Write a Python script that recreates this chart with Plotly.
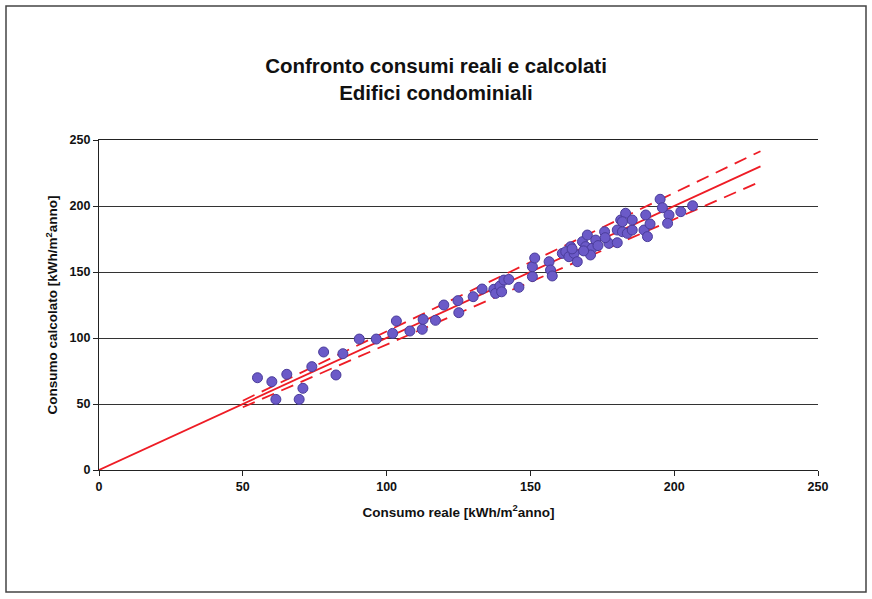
import plotly.graph_objects as go

# Measured points: consumo reale (x) vs consumo calcolato (y)
consumo_reale = [55.1, 60.1, 61.5, 65.3, 70.9, 69.6, 74.0, 78.1, 82.4, 84.8,
                 90.5, 96.4, 102.1, 103.4, 108.1, 112.4, 112.7, 117.0, 119.9, 125.1,
                 124.8, 130.1, 133.2, 137.3, 137.9, 139.4, 140.8, 142.5, 140.0, 146.0,
                 150.7, 150.7, 151.5, 156.5, 157.0, 157.6, 161.1, 164.0, 162.3, 163.4,
                 165.2, 166.3, 168.1, 169.8, 169.2, 171.5, 170.9, 172.7, 175.8, 177.3,
                 180.2, 180.2, 181.4, 183.1, 182.0, 183.7, 185.4, 190.1, 189.5, 190.7,
                 195.1, 195.9, 198.2, 197.7, 202.3, 206.4, 191.6, 185.4, 182.0, 164.5,
                 168.5, 176.0, 173.5]
consumo_calcolato = [69.9, 66.9, 53.5, 72.5, 61.9, 53.5, 78.3, 89.4, 72.0, 88.1,
                     99.2, 99.2, 103.5, 112.9, 105.3, 106.6, 114.1, 113.4, 125.0, 119.2,
                     128.3, 131.3, 137.1, 136.9, 133.8, 139.4, 143.9, 144.4, 135.0, 138.4,
                     146.5, 154.0, 160.6, 157.8, 151.5, 147.0, 164.1, 169.2, 165.4, 161.6,
                     164.1, 157.8, 173.0, 178.0, 169.2, 168.0, 162.9, 174.2, 180.5, 171.7,
                     172.2, 181.8, 189.4, 194.5, 180.5, 179.3, 181.8, 193.2, 181.8, 176.8,
                     205.1, 198.7, 193.2, 186.9, 195.7, 200.2, 186.4, 189.4, 188.1, 167.5,
                     166.0, 176.0, 170.0]

# Regression line and dashed band ends
fit_x = [0, 230]
fit_y = [0, 230]
band_x = [50, 230]
band_upper = [52.5, 241.5]
band_lower = [47.5, 218.5]

# Axis ticks
x_ticks = [0, 50, 100, 150, 200, 250]
y_ticks = [0, 50, 100, 150, 200, 250]

RED = "#EE1C25"
FONT = "Liberation Sans, Arial, sans-serif"

fig = go.Figure()
fig.add_trace(go.Scatter(x=band_x, y=band_upper, mode="lines",
                         line=dict(color=RED, width=1.8, dash="13px,8px"),
                         hoverinfo="skip"))
fig.add_trace(go.Scatter(x=band_x, y=band_lower, mode="lines",
                         line=dict(color=RED, width=1.8, dash="13px,8px"),
                         hoverinfo="skip"))
fig.add_trace(go.Scatter(x=fit_x, y=fit_y, mode="lines",
                         line=dict(color=RED, width=1.8)))
fig.add_trace(go.Scatter(x=consumo_reale, y=consumo_calcolato, mode="markers",
                         marker=dict(size=10, color="#6B5AC8",
                                     line=dict(color="#4A3C9A", width=1))))

fig.update_layout(
    width=872, height=599,
    paper_bgcolor="white", plot_bgcolor="white",
    showlegend=False,
    margin=dict(l=99, r=54, t=140, b=129),
    font=dict(family=FONT, color="#111"),
    title=dict(text="Confronto consumi reali e calcolati<br>Edifici condominiali",
               x=0.5, xref="container", xanchor="center",
               y=1 - 73 / 599, yanchor="top",
               font=dict(family=FONT, size=20.5, weight="bold", color="#111")),
    xaxis=dict(range=[0, 250], tickvals=x_ticks, showgrid=False, zeroline=False,
               showline=True, mirror=True, linecolor="#222", linewidth=1.2,
               ticks="outside", ticklen=5, tickcolor="#222",
               tickfont=dict(family=FONT, size=12.5, weight="bold", color="#111"),
               title=dict(text="Consumo reale [kWh/m<sup>2</sup>anno]", standoff=14,
                          font=dict(family=FONT, size=13.5, weight="bold", color="#111"))),
    yaxis=dict(range=[0, 250], tickvals=y_ticks, showgrid=True, gridcolor="#333",
               gridwidth=1, zeroline=False,
               showline=True, linecolor="#222", linewidth=1.2,
               ticks="outside", ticklen=5, tickcolor="#222",
               tickfont=dict(family=FONT, size=12.5, weight="bold", color="#111"),
               title=dict(text="Consumo calcolato [kWh/m<sup>2</sup>anno]", standoff=8,
                          font=dict(family=FONT, size=13.5, weight="bold", color="#111"))),
    shapes=[dict(type="rect", xref="paper", yref="paper",
                 x0=(6 - 99) / 719, x1=(866 - 99) / 719,
                 y0=(470 - 592) / 330, y1=(470 - 6) / 330,
                 line=dict(color="#444", width=1.5), fillcolor="rgba(0,0,0,0)",
                 layer="below")],
)

fig.write_html("out.html", config={"displayModeBar": False},
               post_script="document.body.style.margin='0';")
